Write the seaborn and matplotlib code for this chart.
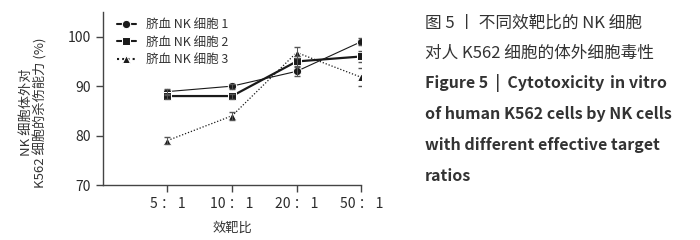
import numpy as np
import pandas as pd
import seaborn as sns
import matplotlib.pyplot as plt

sns.set_style('ticks')
plt.rcParams['font.family'] = ['Noto Sans CJK SC', 'DejaVu Sans']

ratios = ['5 ： 1', '10 ： 1', '20 ： 1', '50 ： 1']
series = ['脐血 NK 细胞 1', '脐血 NK 细胞 2', '脐血 NK 细胞 3']
nk1 = [88.9, 90.0, 93.0, 99.0]
nk2 = [88.0, 88.0, 95.0, 96.0]
nk3 = [79.0, 84.0, 96.8, 91.8]
nk1_err = [0.6, 0.5, 0.9, 0.7]
nk2_err = [0.5, 0.5, 1.0, 1.2]
nk3_err = [0.7, 0.8, 1.2, 1.8]

df = pd.DataFrame({
    'ratio': ratios * 3,
    'kill': nk1 + nk2 + nk3,
    'err': nk1_err + nk2_err + nk3_err,
    'group': [s for s in series for _ in ratios],
})

fig = plt.figure(figsize=(7, 2.4), dpi=100)
ax = fig.add_axes([0.147, 0.229, 0.369, 0.721])

ink = '#1a1a1a'
sns.lineplot(data=df, x='ratio', y='kill', hue='group', style='group',
             markers={series[0]: 'o', series[1]: 's', series[2]: '^'},
             dashes={series[0]: (None, None), series[1]: (None, None), series[2]: (1, 1.5)},
             palette={s: ink for s in series}, markersize=6, ax=ax, sort=False)
for line, lw in zip(ax.get_lines()[:3], [0.8, 1.6, 0.9]):
    line.set_linewidth(lw)

pos = {r: i for i, r in enumerate(ratios)}
ax.errorbar(df['ratio'].map(pos), df['kill'], yerr=df['err'], fmt='none',
            ecolor='#555555', elinewidth=0.7, capsize=2)

ax.set_xlim(-1, 3)
ax.set_ylim(70, 105)
ax.set_yticks([70, 80, 90, 100])
ax.set_xticks(range(4))
ax.set_xticklabels(ratios)
sns.despine(ax=ax)
for sp in ['left', 'bottom']:
    ax.spines[sp].set_color('#444444')
    ax.spines[sp].set_linewidth(1.0)
ax.tick_params(colors='#444444', labelcolor='#2a2a2a', labelsize=10, length=5, width=1)
ax.set_xlabel('效靶比', fontsize=9.5, color='#333333', labelpad=8)
ax.set_ylabel('NK 细胞体外对\nK562 细胞的杀伤能力 (%)', fontsize=9.5, color='#333333',
              linespacing=1.05)
ax.yaxis.set_label_coords(-0.215, 0.42)

leg = ax.legend(loc='upper left', frameon=False, fontsize=9, handlelength=1.5,
                borderaxespad=0.1, labelspacing=0.35, bbox_to_anchor=(0.03, 1.0))
for t in leg.get_texts():
    t.set_color('#333333')

caption = [
    '图 5 丨 不同效靶比的 NK 细胞',
    '对人 K562 细胞的体外细胞毒性',
]
for i, s in enumerate(caption):
    fig.text(0.607, 0.905 - i * 0.125, s, fontsize=12, color='#333333', va='center')
head = fig.text(0.607, 0.655, 'Figure 5  |  Cytotoxicity', fontsize=11.5, fontweight='bold',
                color='#333333', va='center')
ax.annotate('in vitro', xy=(1, 0.5), xycoords=head, xytext=(4, 0), textcoords='offset points',
            fontsize=11.5, fontweight='bold', style='italic', color='#333333',
            va='center', ha='left', annotation_clip=False)
english = ['of human K562 cells by NK cells', 'with different effective target', 'ratios']
for i, s in enumerate(english):
    fig.text(0.607, 0.525 - i * 0.13, s, fontsize=11.5, fontweight='bold',
             color='#333333', va='center')

fig.savefig('out.png', dpi=100)
